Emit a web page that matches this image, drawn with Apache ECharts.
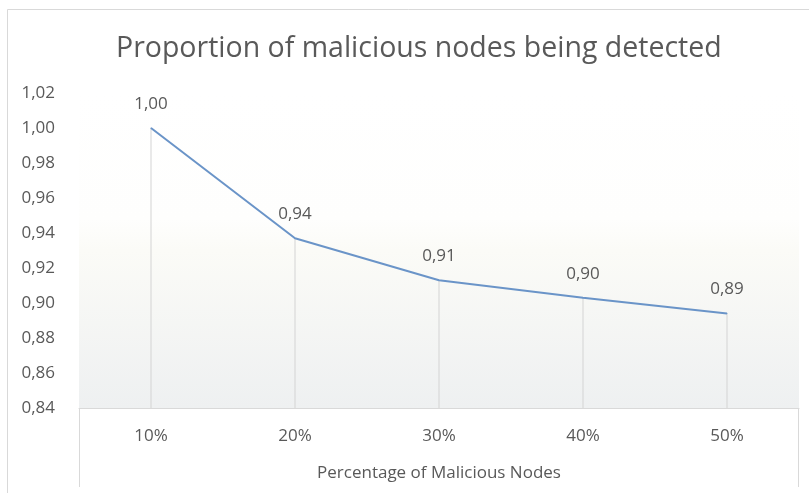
<!DOCTYPE html>
<html>
<head>
<meta charset="utf-8">
<script src="https://cdn.jsdelivr.net/npm/echarts@6/dist/echarts.min.js"></script>
<style>html,body{margin:0;padding:0;background:#fff}#c{width:809px;height:493px}</style>
</head>
<body>
<div id="c"></div>
<script>
var categories = ['10%', '20%', '30%', '40%', '50%'];
var detected = [1.000, 0.937, 0.913, 0.903, 0.894];
var labels = ['1,00', '0,94', '0,91', '0,90', '0,89'];
var yMin = 0.84, yMax = 1.02, yStep = 0.02;

var chart = echarts.init(document.getElementById('c'));
var txt = '#595959';
var font = '"Open Sans", sans-serif';
chart.setOption({
  backgroundColor: '#ffffff',
  animation: false,
  title: {
    text: 'Proportion of malicious nodes being detected',
    left: 111, top: 29,
    textStyle: { color: txt, fontSize: 28.5, fontWeight: 'normal', fontFamily: font }
  },
  grid: {
    left: 79, right: 10, top: 93, bottom: 85,
    show: true, borderWidth: 0,
    backgroundColor: new echarts.graphic.LinearGradient(0, 0, 0, 1, [
      { offset: 0, color: '#ffffff' },
      { offset: 0.4, color: '#fefefd' },
      { offset: 0.5, color: '#fbfbf7' },
      { offset: 1, color: '#eef0f1' }
    ])
  },
  xAxis: {
    type: 'category', data: categories, boundaryGap: true,
    axisLine: { show: true, lineStyle: { color: '#d9d9d9', width: 1 } },
    axisTick: { show: false },
    axisLabel: { color: txt, fontSize: 17, fontFamily: font, margin: 20 },
    name: 'Percentage of Malicious Nodes', nameLocation: 'middle', nameGap: 57,
    nameTextStyle: { color: txt, fontSize: 17, fontFamily: font }
  },
  yAxis: {
    type: 'value', min: yMin, max: yMax, interval: yStep,
    axisLine: { show: false }, axisTick: { show: false },
    splitLine: { show: false },
    axisLabel: {
      color: txt, fontSize: 17, fontFamily: font, margin: 24,
      formatter: function (v) { return v.toFixed(2).replace('.', ','); }
    }
  },
  series: [
    {
      type: 'bar', data: detected, barWidth: 1, silent: true, z: 1,
      itemStyle: { color: '#d4d4d4' }
    },
    {
      type: 'line', data: detected, z: 3, symbol: 'circle', symbolSize: 1, showSymbol: true,
      itemStyle: { color: '#6a94c8' },
      lineStyle: { color: '#6a94c8', width: 2 },
      label: {
        show: true, position: 'top', distance: 15, color: txt, fontSize: 17, fontFamily: font,
        formatter: function (p) { return labels[p.dataIndex]; }
      }
    }
  ],
  graphic: [
    { type: 'line', shape: { x1: 79.5, y1: 408, x2: 79.5, y2: 487 }, style: { stroke: '#d9d9d9', lineWidth: 1 }, silent: true },
    { type: 'line', shape: { x1: 798.5, y1: 408, x2: 798.5, y2: 487 }, style: { stroke: '#d9d9d9', lineWidth: 1 }, silent: true },
    { type: 'polyline', shape: { points: [[7.5, 493], [7.5, 9.5], [809, 9.5]] }, style: { stroke: '#d9d9d9', lineWidth: 1, fill: null }, silent: true }
  ]
});
</script>
</body>
</html>
